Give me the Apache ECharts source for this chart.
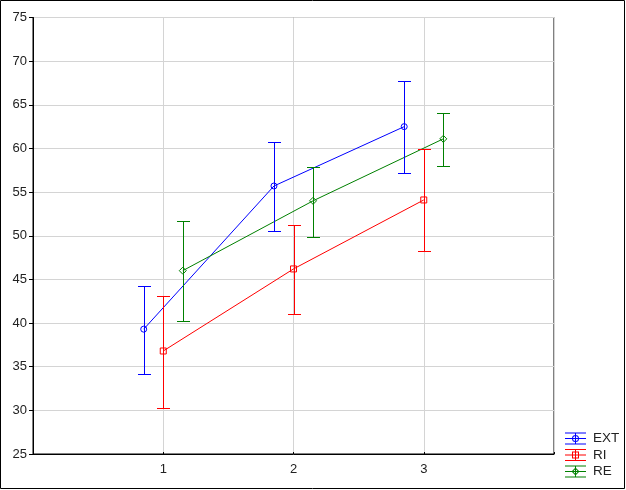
<!DOCTYPE html>
<html>
<head>
<meta charset="utf-8">
<script src="https://cdn.jsdelivr.net/npm/echarts@6/dist/echarts.min.js"></script>
<style>
html,body{margin:0;padding:0;background:#fff;}
#main{width:626px;height:490px;}
</style>
</head>
<body>
<div id="main"></div>
<script>
// ---- data ----
var xCats = [1, 2, 3];
var xTickLabels = ['1', '2', '3'];
var seriesNames = ['EXT', 'RI', 'RE'];
var extMean = [39.3, 55.7, 62.5];
var extLow  = [34.2, 50.5, 57.2];
var extHigh = [44.2, 60.7, 67.7];
var riMean  = [36.8, 46.2, 54.1];
var riLow   = [30.3, 41.0, 48.3];
var riHigh  = [43.1, 51.2, 59.9];
var reMean  = [46.0, 54.0, 61.1];
var reLow   = [40.2, 49.9, 58.0];
var reHigh  = [51.7, 57.9, 64.1];

// ---- style ----
var colors = ['#0000ff', '#ff0000', '#008000'];
var offsets = [-0.15, 0, 0.15];
var symbols = ['circle', 'rect', 'diamond'];
var symbolSizes = [6, 6, 7];
var capHalf = 6.5;

var means = [extMean, riMean, reMean];
var lows = [extLow, riLow, reLow];
var highs = [extHigh, riHigh, reHigh];

var base = 'M0,0H21V1H0Z M0,5.5H21V6.5H0Z M0,11H21V12H0Z M10,0H11V12H10Z ';
var markerPaths = [
  'M14,6A3.5,3.5 0 1 1 7,6A3.5,3.5 0 1 1 14,6Z M13,6A2.5,2.5 0 1 0 8,6A2.5,2.5 0 1 0 13,6Z',
  'M7,2.5H14V9.5H7Z M8,3.5V8.5H13V3.5Z',
  'M10.5,2L14.5,6L10.5,10L6.5,6Z M10.5,3.4L7.9,6L10.5,8.6L13.1,6Z'
];

var series = [];
var legendData = [];
seriesNames.forEach(function (name, s) {
  var off = offsets[s];
  series.push({
    name: name,
    type: 'line',
    data: xCats.map(function (x, i) { return [x + off, means[s][i]]; }),
    symbol: symbols[s],
    symbolSize: symbolSizes[s],
    color: colors[s],
    lineStyle: { width: 1, color: colors[s] },
    itemStyle: { color: 'rgba(255,255,255,0)', borderColor: colors[s], borderWidth: 1 },
    emphasis: { disabled: true },
    z: 3,
    animation: false
  });
  series.push({
    name: name,
    type: 'custom',
    data: xCats.map(function (x, i) { return [x + off, lows[s][i], highs[s][i]]; }),
    renderItem: function (params, api) {
      var lo = api.coord([api.value(0), api.value(1)]);
      var hi = api.coord([api.value(0), api.value(2)]);
      var st = { stroke: colors[s], lineWidth: 1 };
      var xx = Math.round(lo[0]) + 0.5;
      var y1 = Math.round(lo[1]) + 0.5, y2 = Math.round(hi[1]) + 0.5;
      return {
        type: 'group',
        children: [
          { type: 'line', shape: { x1: xx, y1: y1, x2: xx, y2: y2 }, style: st },
          { type: 'line', shape: { x1: xx - capHalf, y1: y1, x2: xx + capHalf, y2: y1 }, style: st },
          { type: 'line', shape: { x1: xx - capHalf, y1: y2, x2: xx + capHalf, y2: y2 }, style: st }
        ]
      };
    },
    z: 4,
    animation: false
  });
  legendData.push({
    name: name,
    icon: 'path://' + base + markerPaths[s],
    itemStyle: { color: colors[s], borderWidth: 0 }
  });
});

var chart = echarts.init(document.getElementById('main'), null, { renderer: 'canvas' });
chart.setOption({
  backgroundColor: '#ffffff',
  animation: false,
  textStyle: { fontFamily: 'Liberation Sans, Arial, sans-serif' },
  grid: {
    left: 33, right: 72, top: 17.5, bottom: 36,
    show: true, borderColor: '#000', borderWidth: 1, backgroundColor: 'transparent'
  },
  legend: {
    orient: 'vertical',
    left: 565, top: 431.5,
    padding: 0,
    itemWidth: 21, itemHeight: 12, itemGap: 2.5,
    textStyle: { fontSize: 13.5, color: '#222', lineHeight: 14, padding: [0, 0, 0, 2] },
    selectedMode: false,
    data: legendData
  },
  xAxis: {
    type: 'value', min: 0, max: 4, interval: 1,
    axisLine: { show: true, lineStyle: { color: '#000', width: 1 } },
    axisTick: { show: true, inside: true, length: 2, lineStyle: { color: '#000' } },
    axisLabel: {
      fontSize: 13, color: '#222', margin: 9,
      formatter: function (v) {
        var i = xCats.indexOf(v);
        return i >= 0 ? xTickLabels[i] : '';
      }
    },
    splitLine: { show: true, lineStyle: { color: '#d4d4d4', width: 1 } }
  },
  yAxis: {
    type: 'value', min: 25, max: 75, interval: 5,
    axisLine: { show: true, lineStyle: { color: '#000', width: 1 } },
    axisTick: { show: true, inside: false, length: 4, lineStyle: { color: '#000' } },
    axisLabel: { fontSize: 13, color: '#222', margin: 6 },
    splitLine: { show: true, lineStyle: { color: '#d4d4d4', width: 1 } }
  },
  graphic: [{
    type: 'rect',
    shape: { x: 0.5, y: 0.5, width: 624, height: 488 },
    style: { fill: 'none', stroke: '#000', lineWidth: 1 },
    silent: true
  }],
  series: series
});
</script>
</body>
</html>
